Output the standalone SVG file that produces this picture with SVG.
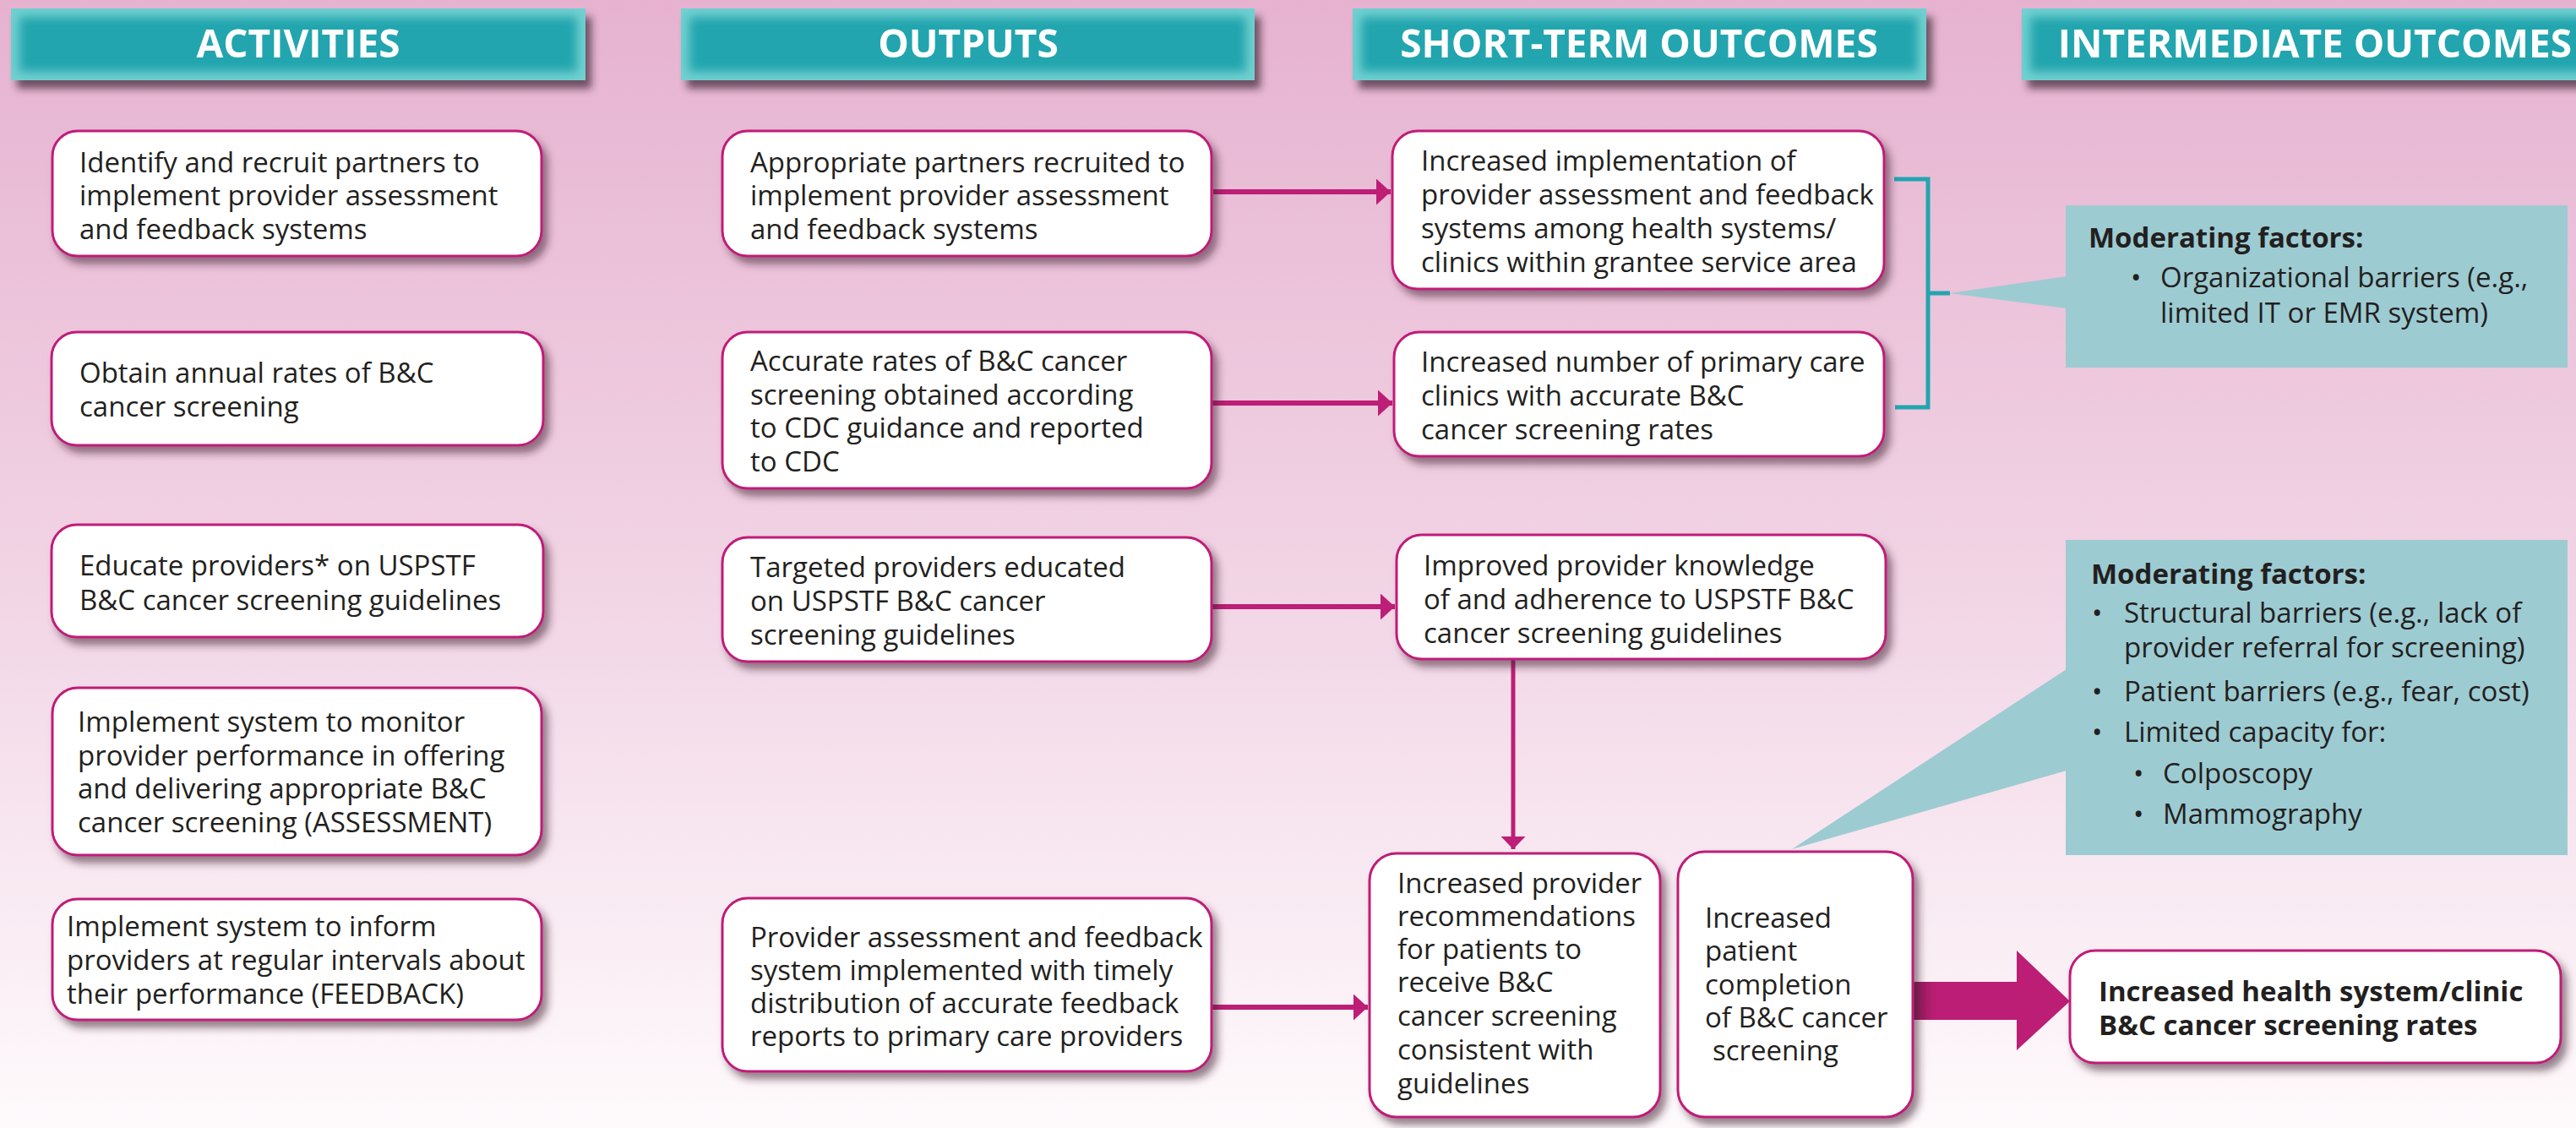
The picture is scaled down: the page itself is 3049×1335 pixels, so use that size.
<svg xmlns="http://www.w3.org/2000/svg" width="3049" height="1335" viewBox="0 0 3049 1335">
<defs>
  <linearGradient id="bg" x1="0" y1="0" x2="0" y2="1">
    <stop offset="0" stop-color="#e6b2d0"/>
    <stop offset="0.5" stop-color="#f1d3e4"/>
    <stop offset="1" stop-color="#fefafc"/>
  </linearGradient>
  <linearGradient id="bigarrow" x1="0" y1="0" x2="1" y2="0">
    <stop offset="0" stop-color="#8e1a5a"/>
    <stop offset="0.15" stop-color="#bb1e74"/>
    <stop offset="1" stop-color="#bb1e74"/>
  </linearGradient>
  <filter id="hshadow" x="-10%" y="-30%" width="125%" height="180%">
    <feDropShadow dx="7" dy="10" stdDeviation="5" flood-color="#3c2232" flood-opacity="0.7"/>
  </filter>
  <filter id="bshadow" x="-10%" y="-10%" width="125%" height="135%">
    <feDropShadow dx="6" dy="8" stdDeviation="5" flood-color="#3c2232" flood-opacity="0.55"/>
  </filter>
  <filter id="soft" x="-10%" y="-30%" width="120%" height="160%">
    <feGaussianBlur stdDeviation="6"/>
  </filter>
  <clipPath id="bbclip" clipPathUnits="objectBoundingBox"><rect x="0" y="0" width="1" height="1"/></clipPath>
  <marker id="ah" viewBox="0 0 17 31" refX="17" refY="15.5" markerWidth="17" markerHeight="31" orient="auto" markerUnits="userSpaceOnUse">
    <polygon points="0,0 17,15.5 0,31" fill="#bd1e76"/>
  </marker>
  <marker id="ahv" viewBox="0 0 15 29" refX="15" refY="14.5" markerWidth="15" markerHeight="29" orient="auto" markerUnits="userSpaceOnUse">
    <polygon points="0,0 15,14.5 0,29" fill="#bd1e76"/>
  </marker>
</defs>
<style>
  .hdrtxt { font-family: "Open Sans", "Liberation Sans", sans-serif; font-weight: 700; font-size: 46px; fill: #ffffff; text-anchor: middle; }
  .box { fill: #ffffff; stroke: #bf1f78; stroke-width: 3; }
  .t { font-family: "Open Sans", "Liberation Sans", sans-serif; font-size: 33px; fill: #231f20; }
  .tb { font-family: "Open Sans", "Liberation Sans", sans-serif; font-size: 33px; font-weight: 700; fill: #231f20; }
  .mf { fill: #9dcbd2; }
  .conn { stroke: #bd1e76; fill: none; }
  .bracket { stroke: #22a5af; stroke-width: 5; fill: none; }
</style>

<rect x="0" y="0" width="3049" height="1335" fill="url(#bg)"/>

<!-- Headers -->
<g id="header-activities" filter="url(#hshadow)">
  <g clip-path="url(#bbclip)">
    <rect x="13" y="10" width="680" height="85" fill="#72d0d0"/>
    <rect x="23" y="20" width="660" height="65" fill="#21a5ae" filter="url(#soft)"/>
  </g>
  <text class="hdrtxt" x="353" y="68">ACTIVITIES</text>
</g>
<g id="header-outputs" filter="url(#hshadow)">
  <g clip-path="url(#bbclip)">
    <rect x="806" y="10" width="679" height="85" fill="#72d0d0"/>
    <rect x="816" y="20" width="659" height="65" fill="#21a5ae" filter="url(#soft)"/>
  </g>
  <text class="hdrtxt" x="1146" y="68">OUTPUTS</text>
</g>
<g id="header-short" filter="url(#hshadow)">
  <g clip-path="url(#bbclip)">
    <rect x="1601" y="10" width="679" height="85" fill="#72d0d0"/>
    <rect x="1611" y="20" width="659" height="65" fill="#21a5ae" filter="url(#soft)"/>
  </g>
  <text class="hdrtxt" x="1940" y="68">SHORT-TERM OUTCOMES</text>
</g>
<g id="header-intermediate" filter="url(#hshadow)">
  <g clip-path="url(#bbclip)">
    <rect x="2393" y="10" width="680" height="85" fill="#72d0d0"/>
    <rect x="2403" y="20" width="660" height="65" fill="#21a5ae" filter="url(#soft)"/>
  </g>
  <text class="hdrtxt" x="2740" y="68">INTERMEDIATE OUTCOMES</text>
</g>

<!-- Moderating factor callouts -->
<g id="mf1">
  <polygon class="mf" points="2446,327 2308,347 2446,365"/>
  <rect class="mf" x="2445" y="243" width="594" height="192"/>
  <text class="tb" x="2472" y="293">Moderating factors:</text>
  <text class="t" x="2522" y="340">•</text>
  <text class="t" x="2557" y="340">Organizational barriers (e.g.,</text>
  <text class="t" x="2557" y="382">limited IT or EMR system)</text>
</g>
<g id="mf2">
  <polygon class="mf" points="2446,792 2121,1005 2446,912"/>
  <rect class="mf" x="2445" y="639" width="594" height="373"/>
  <text class="tb" x="2475" y="691">Moderating factors:</text>
  <text class="t" x="2476" y="737">•</text>
  <text class="t" x="2514" y="737">Structural barriers (e.g., lack of</text>
  <text class="t" x="2514" y="778">provider referral for screening)</text>
  <text class="t" x="2476" y="830">•</text>
  <text class="t" x="2514" y="830">Patient barriers (e.g., fear, cost)</text>
  <text class="t" x="2476" y="878">•</text>
  <text class="t" x="2514" y="878">Limited capacity for:</text>
  <text class="t" x="2525" y="927">•</text>
  <text class="t" x="2560" y="927">Colposcopy</text>
  <text class="t" x="2525" y="975">•</text>
  <text class="t" x="2560" y="975">Mammography</text>
</g>

<!-- Connectors -->
<g id="connectors">
  <line class="conn" x1="1436" y1="227" x2="1646" y2="227" stroke-width="6" marker-end="url(#ah)"/>
  <line class="conn" x1="1434" y1="477" x2="1648" y2="477" stroke-width="6" marker-end="url(#ah)"/>
  <line class="conn" x1="1434" y1="718" x2="1651" y2="718" stroke-width="6" marker-end="url(#ah)"/>
  <line class="conn" x1="1434" y1="1192" x2="1619" y2="1192" stroke-width="6" marker-end="url(#ah)"/>
  <line class="conn" x1="1791" y1="780" x2="1791" y2="1005" stroke-width="5" marker-end="url(#ahv)"/>
  <polygon points="2264,1162 2387,1162 2387,1125 2450,1185 2387,1243 2387,1207 2264,1207" fill="url(#bigarrow)"/>
  <polyline class="bracket" points="2242,212 2282,212 2282,482 2243,482"/>
  <line class="bracket" x1="2282" y1="347" x2="2308" y2="347"/>
</g>

<!-- Activities -->
<g id="a1">
  <rect class="box" x="62" y="155" width="579" height="148" rx="30" filter="url(#bshadow)"/>
  <text class="t" x="94" y="204">Identify and recruit partners to</text>
  <text class="t" x="94" y="243">implement provider assessment</text>
  <text class="t" x="94" y="283">and feedback systems</text>
</g>
<g id="a2">
  <rect class="box" x="61" y="393" width="582" height="134" rx="30" filter="url(#bshadow)"/>
  <text class="t" x="94" y="453">Obtain annual rates of B&amp;C</text>
  <text class="t" x="94" y="493">cancer screening</text>
</g>
<g id="a3">
  <rect class="box" x="61" y="621" width="582" height="133" rx="30" filter="url(#bshadow)"/>
  <text class="t" x="94" y="681">Educate providers* on USPSTF</text>
  <text class="t" x="94" y="722">B&amp;C cancer screening guidelines</text>
</g>
<g id="a4">
  <rect class="box" x="62" y="814" width="579" height="198" rx="30" filter="url(#bshadow)"/>
  <text class="t" x="92" y="866">Implement system to monitor</text>
  <text class="t" x="92" y="906">provider performance in offering</text>
  <text class="t" x="92" y="945">and delivering appropriate B&amp;C</text>
  <text class="t" x="92" y="985">cancer screening (ASSESSMENT)</text>
</g>
<g id="a5">
  <rect class="box" x="62" y="1064" width="579" height="143" rx="30" filter="url(#bshadow)"/>
  <text class="t" x="79" y="1108">Implement system to inform</text>
  <text class="t" x="79" y="1148">providers at regular intervals about</text>
  <text class="t" x="79" y="1188">their performance (FEEDBACK)</text>
</g>

<!-- Outputs -->
<g id="o1">
  <rect class="box" x="855" y="155" width="579" height="148" rx="30" filter="url(#bshadow)"/>
  <text class="t" x="888" y="204">Appropriate partners recruited to</text>
  <text class="t" x="888" y="243">implement provider assessment</text>
  <text class="t" x="888" y="283">and feedback systems</text>
</g>
<g id="o2">
  <rect class="box" x="855" y="393" width="579" height="185" rx="30" filter="url(#bshadow)"/>
  <text class="t" x="888" y="439">Accurate rates of B&amp;C cancer</text>
  <text class="t" x="888" y="479">screening obtained according</text>
  <text class="t" x="888" y="518">to CDC guidance and reported</text>
  <text class="t" x="888" y="558">to CDC</text>
</g>
<g id="o3">
  <rect class="box" x="855" y="636" width="579" height="147" rx="30" filter="url(#bshadow)"/>
  <text class="t" x="888" y="683">Targeted providers educated</text>
  <text class="t" x="888" y="723">on USPSTF B&amp;C cancer</text>
  <text class="t" x="888" y="763">screening guidelines</text>
</g>
<g id="o4">
  <rect class="box" x="855" y="1063" width="579" height="205" rx="30" filter="url(#bshadow)"/>
  <text class="t" x="888" y="1121">Provider assessment and feedback</text>
  <text class="t" x="888" y="1160">system implemented with timely</text>
  <text class="t" x="888" y="1199">distribution of accurate feedback</text>
  <text class="t" x="888" y="1238">reports to primary care providers</text>
</g>

<!-- Short-term outcomes -->
<g id="s1">
  <rect class="box" x="1648" y="155" width="582" height="187" rx="30" filter="url(#bshadow)"/>
  <text class="t" x="1682" y="202">Increased implementation of</text>
  <text class="t" x="1682" y="242">provider assessment and feedback</text>
  <text class="t" x="1682" y="282">systems among health systems/</text>
  <text class="t" x="1682" y="322">clinics within grantee service area</text>
</g>
<g id="s2">
  <rect class="box" x="1650" y="393" width="580" height="147" rx="30" filter="url(#bshadow)"/>
  <text class="t" x="1682" y="440">Increased number of primary care</text>
  <text class="t" x="1682" y="480">clinics with accurate B&amp;C</text>
  <text class="t" x="1682" y="520">cancer screening rates</text>
</g>
<g id="s3">
  <rect class="box" x="1653" y="633" width="579" height="147" rx="30" filter="url(#bshadow)"/>
  <text class="t" x="1685" y="681">Improved provider knowledge</text>
  <text class="t" x="1685" y="721">of and adherence to USPSTF B&amp;C</text>
  <text class="t" x="1685" y="761">cancer screening guidelines</text>
</g>
<g id="s4">
  <rect class="box" x="1621" y="1010" width="344" height="312" rx="32" filter="url(#bshadow)"/>
  <text class="t" x="1654" y="1057">Increased provider</text>
  <text class="t" x="1654" y="1096">recommendations</text>
  <text class="t" x="1654" y="1135">for patients to</text>
  <text class="t" x="1654" y="1174">receive B&amp;C</text>
  <text class="t" x="1654" y="1214">cancer screening</text>
  <text class="t" x="1654" y="1254">consistent with</text>
  <text class="t" x="1654" y="1294">guidelines</text>
</g>
<g id="s5">
  <rect class="box" x="1986" y="1008" width="278" height="314" rx="32" filter="url(#bshadow)"/>
  <text class="t" x="2018" y="1098">Increased</text>
  <text class="t" x="2018" y="1137">patient</text>
  <text class="t" x="2018" y="1177">completion</text>
  <text class="t" x="2018" y="1216">of B&amp;C cancer</text>
  <text class="t" x="2027" y="1255">screening</text>
</g>

<!-- Intermediate outcome -->
<g id="i1">
  <rect class="box" x="2450" y="1125" width="581" height="133" rx="30" filter="url(#bshadow)"/>
  <text class="tb" x="2484" y="1185">Increased health system/clinic</text>
  <text class="tb" x="2484" y="1225">B&amp;C cancer screening rates</text>
</g>
</svg>
